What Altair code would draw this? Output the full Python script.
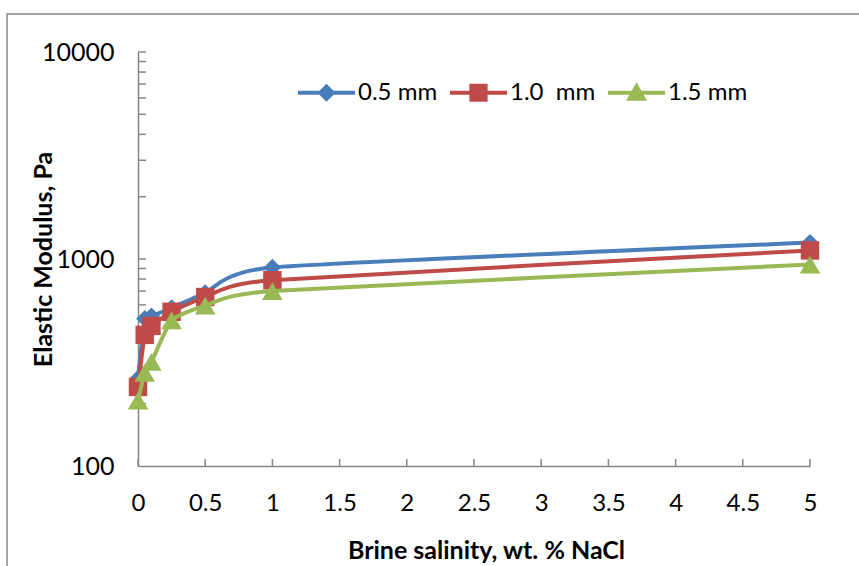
import altair as alt
import pandas as pd

# ---- data ----
salinity = [0, 0.05, 0.1, 0.25, 0.5, 1, 5]
mod_05 = [265, 515, 530, 580, 685, 910, 1200]
mod_10 = [241, 430, 475, 556, 655, 790, 1100]
mod_15 = [207, 282, 318, 505, 595, 700, 940]
series_names = ["0.5 mm", "1.0\u00a0 mm", "1.5 mm"]
series_colors = ["#4A7EBB", "#BE4B48", "#98B954"]
series_shapes = ["diamond", "square", "triangle-up"]
series_sizes = [300, 340, 420]
y_major = [100, 1000, 10000]
y_minor = [200, 300, 400, 500, 600, 700, 800, 900, 1000,
           2000, 3000, 4000, 5000, 6000, 7000, 8000, 9000, 10000]
x_ticks = [0, 0.5, 1, 1.5, 2, 2.5, 3, 3.5, 4, 4.5, 5]

rows = []
for name, vals in zip(series_names, [mod_05, mod_10, mod_15]):
    for s, v in zip(salinity, vals):
        rows.append({"series": name, "salinity": s, "modulus": v})
df = pd.DataFrame(rows)

W, H = 672, 414
FONT = "Lato"
GRAY = "#868686"

xscale = alt.Scale(domain=[0, 5], nice=False, zero=False)
yscale = alt.Scale(type="log", domain=[100, 10000], nice=False)
cscale = alt.Scale(domain=series_names, range=series_colors)

# legend symbols: a line segment with the series marker in its middle
path_bar = "M-1,-0.07L1,-0.07L1,0.07L-1,0.07Z"
p_diamond = path_bar + "M0,-0.32L0.32,0L0,0.32L-0.32,0Z"
p_square = path_bar + "M-0.32,-0.32L0.32,-0.32L0.32,0.32L-0.32,0.32Z"
p_tri = path_bar + "M0,-0.37L0.37,0.28L-0.37,0.28Z"
sscale = alt.Scale(domain=series_names, range=[p_diamond, p_square, p_tri])

legend = alt.Legend(
    title=None, orient="none", legendX=160, legendY=12, direction="horizontal",
    labelFont=FONT, labelFontSize=24, labelColor="#000000",
    symbolSize=3249, symbolStrokeWidth=0, symbolOpacity=1, labelOffset=3,
    columnPadding=12, symbolType=p_square,
)

x_axis = alt.Axis(values=x_ticks, labelExpr="datum.value", ticks=False, grid=False,
                  domainColor=GRAY, domainWidth=1.5, labelFont=FONT, labelFontSize=24,
                  labelColor="#000000", labelPadding=25, labelFlush=False,
                  title="Brine salinity, wt. % NaCl", titleFont=FONT, titleFontSize=25,
                  titleFontWeight="bold", titleColor="#000000",
                  titleX=348, titleY=84, titleAlign="center", titleBaseline="middle")
y_axis = alt.Axis(values=y_major, format="d", ticks=False, grid=False,
                  domainColor=GRAY, domainWidth=1.5, labelFont=FONT, labelFontSize=25,
                  labelColor="#000000", labelPadding=24, labelFlush=False,
                  title="Elastic Modulus, Pa", titleFont=FONT, titleFontSize=25,
                  titleFontWeight="bold", titleColor="#000000",
                  titleX=-95, titleY=H / 2, titleAngle=-90,
                  titleAlign="center", titleBaseline="middle")

X = alt.X("salinity:Q", scale=xscale, axis=x_axis)
Y = alt.Y("modulus:Q", scale=yscale, axis=y_axis)
C = alt.Color("series:N", scale=cscale, legend=legend)

base = alt.Chart(df)
layers = []
for i, name in enumerate(series_names):
    sub = base.transform_filter(alt.datum.series == name)
    line = sub.mark_line(strokeWidth=4, interpolate="cardinal", tension=0.5).encode(
        x=X, y=Y, color=C)
    pts = sub.mark_point(shape=series_shapes[i], filled=True, opacity=1,
                         size=series_sizes[i]).encode(x=X, y=Y, color=C)
    layers += [line, pts]

# invisible layer that carries the legend symbols (line + marker)
leg = base.mark_point(filled=True, size=0).encode(
    x=X, y=Y, color=C,
    shape=alt.Shape("series:N", scale=sscale, legend=legend),
)

yt = alt.Chart(pd.DataFrame({"v": y_minor})).mark_rule(color=GRAY, strokeWidth=1.5).encode(
    y=alt.Y("v:Q", scale=yscale, axis=y_axis), x=alt.value(0), x2=alt.value(8))
xt = alt.Chart(pd.DataFrame({"t": x_ticks})).mark_rule(color=GRAY, strokeWidth=1.5).encode(
    x=alt.X("t:Q", scale=xscale, axis=x_axis), y=alt.value(H), y2=alt.value(H - 7))
frame = alt.Chart(pd.DataFrame({"a": [0]})).mark_rect(
    fillOpacity=0, stroke=GRAY, strokeWidth=1.5).encode(
    x=alt.value(-131), x2=alt.value(W + 100), y=alt.value(-38), y2=alt.value(H + 150))

chart = alt.layer(frame, yt, xt, *layers, leg).properties(
    width=W, height=H,
    autosize=alt.AutoSizeParams(type="none"),
    padding={"left": 138, "top": 52, "right": 49, "bottom": 100},
    background="white",
).configure_view(stroke=None)

chart.save("out.html", embed_options={"renderer": "svg", "actions": False})
